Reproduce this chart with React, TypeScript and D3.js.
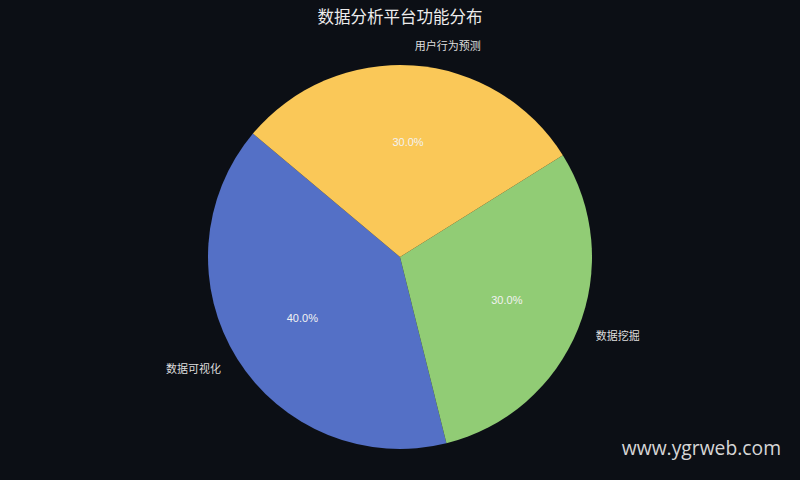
import React from 'react'
import * as d3 from 'd3'

const categories = ['数据可视化', '数据挖掘', '用户行为预测']
const values = [40, 30, 30]
const colors = ['#5470c6', '#91cc75', '#fac858']

const W = 800
const H = 480
const cx = 400
const cy = 257
const R = 192
// matplotlib-style: counterclockwise from 140°
const startDeg = 140

const App: React.FC = () => {
  const total = d3.sum(values)
  const toRad = (deg: number) => (deg * Math.PI) / 180
  // convert math angle (ccw from +x) to d3 arc angle (cw from 12 o'clock)
  const d3Angle = (deg: number) => toRad(90 - deg)

  let acc = startDeg
  const slices = values.map((v, i) => {
    const a0 = acc
    const a1 = acc + (v / total) * 360
    acc = a1
    return { i, v, a0, a1, mid: (a0 + a1) / 2 }
  })

  const arc = d3.arc<any>().innerRadius(0).outerRadius(R)
  const fmt = d3.format('.1f')

  return (
    <svg width={W} height={H} style={{ position: 'absolute', left: 0, top: 0, display: 'block' }}>
      <rect width={W} height={H} fill="#0c0f15" />
      <text x={400} y={23} textAnchor="middle" fill="#ececec" fontSize={16.5}
        fontFamily="'Noto Sans CJK SC', sans-serif">数据分析平台功能分布</text>
      <g transform={`translate(${cx},${cy})`}>
        {slices.map(s => (
          <path key={s.i}
            d={arc({ startAngle: d3Angle(s.a1), endAngle: d3Angle(s.a0) }) || ''}
            fill={colors[s.i]} />
        ))}
        {slices.map(s => {
          const x = Math.cos(toRad(s.mid)) * R * 0.6
          const y = -Math.sin(toRad(s.mid)) * R * 0.6
          return (
            <text key={'p' + s.i} x={x} y={y} dy="0.35em" textAnchor="middle" fill="#f2f2f2"
              fontSize={11} fontFamily="'Liberation Sans', sans-serif">{fmt(s.v / total * 100)}%</text>
          )
        })}
        {slices.map(s => {
          const x = Math.cos(toRad(s.mid)) * R * 1.1
          const y = -Math.sin(toRad(s.mid)) * R * 1.1
          return (
            <text key={'l' + s.i} x={x} y={y} dy="0.35em" textAnchor={x < 0 ? 'end' : 'start'}
              fill="#dedede" fontSize={11} fontFamily="'Noto Sans CJK SC', sans-serif">{categories[s.i]}</text>
          )
        })}
      </g>
      <text x={781} y={455} textAnchor="end" fill="#d6d6d6" fontSize={19.3}
        fontFamily="'Open Sans', sans-serif">www.ygrweb.com</text>
    </svg>
  )
}

export default App
